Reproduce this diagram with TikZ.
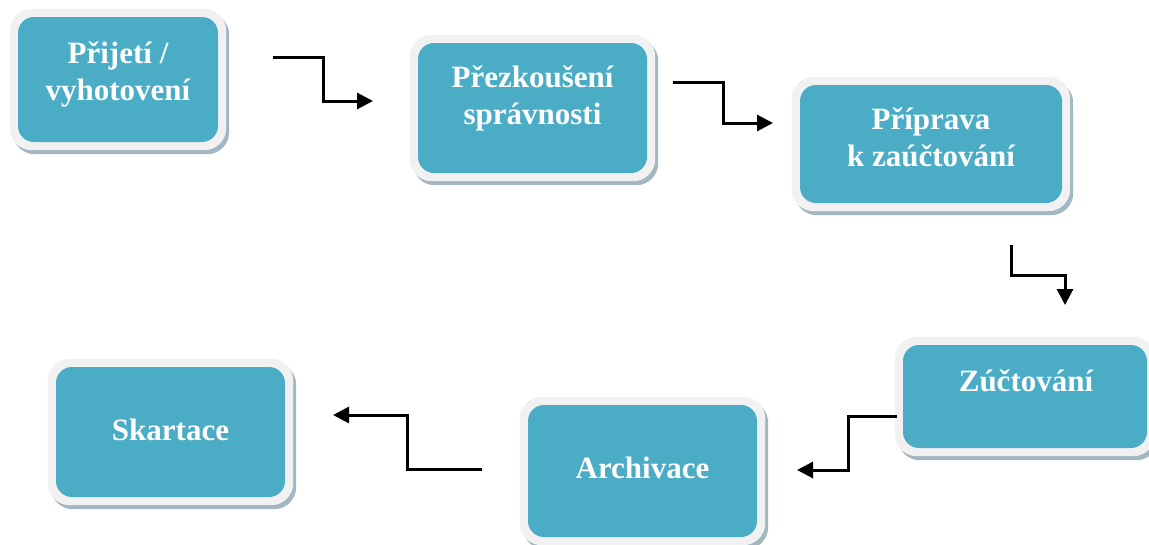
\documentclass[tikz,border=0pt]{standalone}
\usepackage{fontspec}
\setmainfont{Liberation Serif}
\usetikzlibrary{arrows.meta,backgrounds}
\definecolor{teal}{HTML}{4BACC6}
\definecolor{framec}{HTML}{F1F1F1}
\definecolor{shadowc}{HTML}{A3B7C2}
\tikzset{
  stage/.style={rectangle, rounded corners=16pt, fill=teal, inner sep=0pt},
  lbl/.style={text=white, font=\bfseries\fontsize{31}{37}\selectfont, align=center, inner sep=0pt},
  arr/.style={line width=3pt, -{Triangle[length=16pt,width=16pt]}},
}
\newcommand\stageframe[1]{%
  \fill[shadowc, rounded corners=22pt] ([shift={(-5pt,4pt)}]#1.north west) rectangle ([shift={(11pt,-12pt)}]#1.south east);
  \fill[framec, rounded corners=22pt] ([shift={(-8pt,8pt)}]#1.north west) rectangle ([shift={(8pt,-8pt)}]#1.south east);
}
\begin{document}
\begin{tikzpicture}[x=1pt,y=-1pt]
\useasboundingbox (0,0) rectangle (1149,544);
% boxes
\node[stage, minimum width=200pt, minimum height=125pt] (b1) at (118,79.5) {};
\node[stage, minimum width=229pt, minimum height=130pt] (b2) at (532.5,108) {};
\node[stage, minimum width=262pt, minimum height=118pt] (b3) at (931,144) {};
\node[stage, minimum width=244pt, minimum height=103pt] (b4) at (1025,396.5) {};
\node[stage, minimum width=229pt, minimum height=132pt] (b5) at (642.5,471) {};
\node[stage, minimum width=229pt, minimum height=130pt] (b6) at (170.5,432) {};
\begin{scope}[on background layer]
  \stageframe{b1}\stageframe{b2}\stageframe{b3}\stageframe{b4}\stageframe{b5}\stageframe{b6}
\end{scope}
% labels (base = baseline of the last line)
\node[lbl, anchor=base] (t1) at (118,100) {Přijetí /\\vyhotovení};
\node[lbl, anchor=base] (t2) at (532.5,124) {Přezkoušení\\správnosti};
\node[lbl, anchor=base] (t3) at (931,166) {Příprava\\k zaúčtování};
\node[lbl, anchor=base] (t4) at (1026,391) {Zúčtování};
\node[lbl, anchor=base] (t5) at (642.5,478) {Archivace};
\node[lbl, anchor=base] (t6) at (170.5,440) {Skartace};
% arrow ends
\coordinate (a1s) at (273,57);  \coordinate (a1e) at (373,101);
\coordinate (a2s) at (673,82);  \coordinate (a2e) at (773,123);
\coordinate (a3s) at (1011,245); \coordinate (a3e) at (1065,305);
\coordinate (a4s) at ([xshift=-6pt]b4.west |- 0,416); \coordinate (a4e) at (797,470);
\coordinate (a5s) at (482,469); \coordinate (a5e) at (333,415);
\draw[arr] (a1s) -- ++(50,0) |- (a1e);
\draw[arr] (a2s) -- ++(50,0) |- (a2e);
\draw[arr] (a3s) -- ++(0,30) -| (a3e);
\draw[arr] (a4s) -- (848,416) |- (a4e);
\draw[arr] (a5s) -- ++(-75,0) |- (a5e);
\end{tikzpicture}
\end{document}
